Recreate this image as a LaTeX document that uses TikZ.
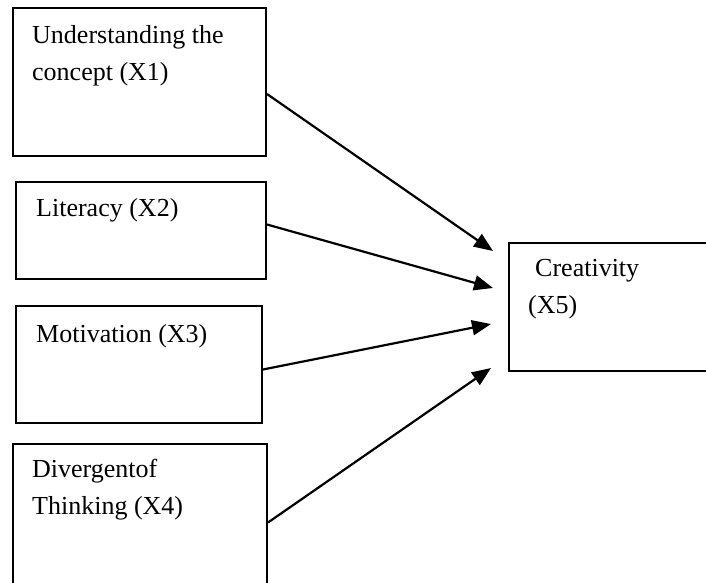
\documentclass[tikz,border=0pt]{standalone}
\usepackage{fontspec}
\setmainfont{Liberation Serif}
\usepackage{tikz}
\usetikzlibrary{positioning,arrows.meta,calc}
\newcommand{\boxfont}{\fontsize{26}{37}\selectfont}

\begin{document}
\begin{tikzpicture}[x=1pt,y=-1pt,
    varbox/.style={draw,line width=2pt,rectangle,anchor=north west,inner sep=0pt},
    lbl/.style={anchor=base west,inner sep=0pt,align=left,font=\boxfont},
    link/.style={-{Triangle[length=19pt,width=15pt]},line width=2.2pt}]
  \useasboundingbox (0,0) rectangle (706,582);
  \clip (0,0) rectangle (706,582);
  % the four predictors and the outcome
  \node[varbox,minimum width=253pt,minimum height=148pt] (b1) at (12,7) {};
  \node[varbox,minimum width=250pt,minimum height=97pt] (b2) at (15,181) {};
  \node[varbox,minimum width=246pt,minimum height=117pt] (b3) at (15,305) {};
  \node[varbox,minimum width=254pt,minimum height=157pt] (b4) at (12,443) {};
  \node[varbox,minimum width=222pt,minimum height=128pt] (b5) at (508,242) {};
  % base anchor sits on the last line
  \node[lbl] (l1) at ([shift={(20,73)}]b1.north west) {Understanding the\\concept (X1)};
  \node[lbl] (l2) at ([shift={(21,35)}]b2.north west) {Literacy (X2)};
  \node[lbl] (l3) at ([shift={(21,37)}]b3.north west) {Motivation (X3)};
  \node[lbl] (l4) at ([shift={(20,71)}]b4.north west) {Divergentof\\Thinking (X4)};
  \node[lbl] (l5) at ([shift={(20,71)}]b5.north west) {\hspace{7pt}Creativity\\(X5)};
  % arrows into creativity
  \coordinate (t1) at ([shift={(-15,-56)}]b5.west);
  \coordinate (t2) at ([shift={(-15,-19)}]b5.west);
  \coordinate (t3) at ([shift={(-17,17)}]b5.west);
  \coordinate (t4) at ([shift={(-17,61)}]b5.west);
  \draw[link] ([yshift=-12pt]b1.east) -- (t1);
  \draw[link] ([yshift=6pt]b2.east) -- (t2);
  \draw[link] ([yshift=-5pt]b3.east) -- (t3);
  \draw[link] (b4.east) -- (t4);
\end{tikzpicture}
\end{document}
